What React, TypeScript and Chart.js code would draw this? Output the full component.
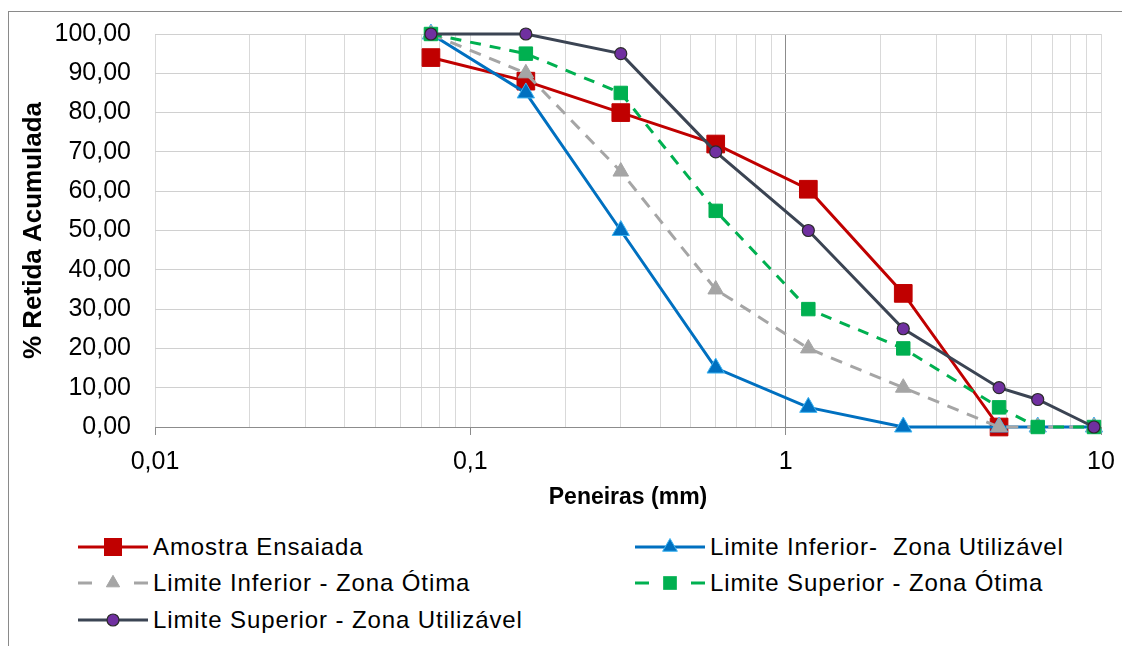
import React, { useEffect, useRef } from "react";
import { Chart, registerables } from "chart.js";

Chart.register(...registerables);

// ---- Data ----
const sieves = [0.075, 0.15, 0.3, 0.6, 1.18, 2.36, 4.75, 6.3, 9.5];
const amostraEnsaiada = [94, 88, 80, 72, 60.5, 34, 0];
const limInfUtilizavel = [100, 85, 50, 15, 5, 0, 0, 0, 0];
const limInfOtima = [100, 90, 65, 35, 20, 10, 0, 0, 0];
const limSupOtima = [100, 95, 85, 55, 30, 20, 5, 0, 0];
const limSupUtilizavel = [100, 100, 95, 70, 50, 25, 10, 7, 0];

const seriesNames = [
  "Amostra Ensaiada",
  "Limite Inferior-  Zona Utilizável",
  "Limite Inferior - Zona Ótima",
  "Limite Superior - Zona Ótima",
  "Limite Superior - Zona Utilizável",
];

const xMajorValues = [0.01, 0.1, 1, 10];
const xMajorLabels = ["0,01", "0,1", "1", "10"];
const xTitle = "Peneiras (mm)";
const yTitle = "% Retida Acumulada";

const FONT = "'Liberation Sans', Arial, sans-serif";

const xGridValues: number[] = (() => {
  const out: number[] = [];
  for (let e = -2; e <= 0; e++) {
    for (let m = 1; m <= 9; m++) out.push(Number((m * Math.pow(10, e)).toPrecision(3)));
  }
  out.push(10);
  return out;
})();

const toPoints = (vals: number[]) => vals.map((y, i) => ({ x: sieves[i], y }));

type Sty = {
  color: string;
  dash: number[];
  marker: string;
  radius: number;
  fill: string;
  border: string;
  borderW: number;
};

const styles: Sty[] = [
  { color: "#C00000", dash: [], marker: "rect", radius: 12.5, fill: "#C00000", border: "#C00000", borderW: 1 },
  { color: "#0070C0", dash: [], marker: "triangle", radius: 10, fill: "#0070C0", border: "#3DB4F2", borderW: 1 },
  { color: "#A5A5A5", dash: [12, 9], marker: "triangle", radius: 9, fill: "#A5A5A5", border: "#A5A5A5", borderW: 1 },
  { color: "#00B050", dash: [11, 9], marker: "rect", radius: 9.5, fill: "#00B050", border: "#00B050", borderW: 1 },
  { color: "#3B4453", dash: [], marker: "circle", radius: 6, fill: "#7030A0", border: "#2A2A2A", borderW: 1.2 },
];

const seriesValues = [amostraEnsaiada, limInfUtilizavel, limInfOtima, limSupOtima, limSupUtilizavel];

function LegendSample({ s }: { s: Sty }) {
  const w = 70;
  const h = 24;
  const cy = h / 2;
  let marker: React.ReactNode = null;
  if (s.marker === "rect") {
    const r = s.radius * 0.72;
    marker = <rect x={35 - r} y={cy - r} width={2 * r} height={2 * r} fill={s.fill} />;
  } else if (s.marker === "triangle") {
    const r = s.radius * 0.85;
    const p = `${35},${cy - r} ${35 + r * 0.866},${cy + r * 0.5} ${35 - r * 0.866},${cy + r * 0.5}`;
    marker = <polygon points={p} fill={s.fill} stroke={s.border} strokeWidth={1} />;
  } else {
    marker = <circle cx={35} cy={cy} r={6} fill={s.fill} stroke={s.border} strokeWidth={1.2} />;
  }
  const dashed = s.dash.length > 0;
  return (
    <svg width={w} height={h} style={{ display: "block" }}>
      {dashed ? (
        <>
          <line x1={0} y1={cy} x2={14} y2={cy} stroke={s.color} strokeWidth={3} />
          <line x1={56} y1={cy} x2={70} y2={cy} stroke={s.color} strokeWidth={3} />
        </>
      ) : (
        <line x1={0} y1={cy} x2={70} y2={cy} stroke={s.color} strokeWidth={3} />
      )}
      {marker}
    </svg>
  );
}

const legendPos = [
  { left: 69, top: 535 },
  { left: 626, top: 535 },
  { left: 69, top: 571 },
  { left: 626, top: 571 },
  { left: 69, top: 608 },
];

export default function App() {
  const canvasRef = useRef<HTMLCanvasElement | null>(null);

  useEffect(() => {
    const canvas = canvasRef.current;
    if (!canvas) return;
    const datasets = seriesValues.map((vals, i) => {
      const s = styles[i];
      return {
        label: seriesNames[i],
        data: toPoints(vals),
        borderColor: s.color,
        borderWidth: 3,
        borderDash: s.dash,
        backgroundColor: s.fill,
        pointStyle: s.marker as any,
        pointRadius: s.radius,
        pointHoverRadius: s.radius,
        pointBackgroundColor: s.fill,
        pointBorderColor: s.border,
        pointBorderWidth: s.borderW,
        tension: 0,
        fill: false,
        clip: false as any,
        order: seriesValues.length - i,
      };
    });

    const chart = new Chart(canvas, {
      type: "line",
      data: { datasets },
      options: {
        responsive: false,
        animation: false,
        parsing: true,
        layout: { padding: { left: 0, right: 20, top: 22, bottom: 0 } },
        plugins: {
          legend: { display: false },
          tooltip: { enabled: false },
          title: { display: false },
        },
        scales: {
          x: {
            type: "logarithmic",
            min: 0.01,
            max: 10,
            afterBuildTicks: (scale: any) => {
              scale.ticks = xGridValues.map((v) => ({ value: v }));
            },
            afterFit: (scale: any) => {
              scale.height = 85;
              scale.paddingLeft = 0;
              scale.paddingRight = 0;
            },
            ticks: {
              autoSkip: false,
              maxRotation: 0,
              minRotation: 0,
              padding: 12,
              color: "#000",
              font: { family: FONT, size: 25 },
              callback: (v: any) => {
                const idx = xMajorValues.indexOf(Number(v));
                return idx >= 0 ? xMajorLabels[idx] : "";
              },
            },
            grid: {
              drawTicks: true,
              tickLength: 8,
              lineWidth: 1,
              color: (ctx: any) => (ctx.tick && ctx.tick.value === 1 ? "#8C8C8C" : "#D9D9D9"),
              tickColor: (ctx: any) =>
                ctx.tick && xMajorValues.includes(ctx.tick.value) ? "#8C8C8C" : "rgba(0,0,0,0)",
            },
            border: { display: true, color: "#8C8C8C", width: 1 },
            title: {
              display: true,
              text: xTitle,
              color: "#000",
              font: { family: FONT, size: 23, weight: "bold" },
              padding: { top: 0, bottom: 1 },
            },
          },
          y: {
            type: "linear",
            min: 0,
            max: 100,
            afterFit: (scale: any) => {
              scale.width = 146;
              scale.paddingTop = 0;
              scale.paddingBottom = 0;
            },
            ticks: {
              stepSize: 10,
              padding: 24,
              color: "#000",
              font: { family: FONT, size: 25 },
              callback: (v: any) => Number(v).toFixed(2).replace(".", ","),
            },
            grid: {
              drawTicks: false,
              lineWidth: 1,
              color: (ctx: any) => (ctx.tick && ctx.tick.value === 0 ? "#8C8C8C" : "#D0D0D0"),
            },
            border: { display: false },
            title: {
              display: true,
              text: yTitle,
              color: "#000",
              font: { family: FONT, size: 26, weight: "bold" },
              padding: { top: 9, bottom: 0 },
            },
          },
        },
      },
    });
    return () => chart.destroy();
  }, []);

  return (
    <div
      style={{
        position: "relative",
        top: 3,
        width: 1130,
        height: 640,
        borderTop: "1px solid #8A8A8A",
        borderLeft: "1px solid #8A8A8A",
        boxSizing: "border-box",
        fontFamily: FONT,
        background: "#fff",
      }}
    >
      <canvas
        ref={canvasRef}
        width={1112}
        height={500}
        style={{ position: "absolute", left: 0, top: 0, width: 1112, height: 500 }}
      />
      {seriesNames.map((name, i) => (
        <div
          key={name}
          style={{
            position: "absolute",
            left: legendPos[i].left,
            top: legendPos[i].top - 12,
            height: 24,
            display: "flex",
            alignItems: "center",
            whiteSpace: "pre",
          }}
        >
          <LegendSample s={styles[i]} />
          <span
            style={{
              marginLeft: 5,
              fontSize: 24,
              letterSpacing: "0.9px",
              color: "#000",
              lineHeight: "24px",
            }}
          >
            {name}
          </span>
        </div>
      ))}
    </div>
  );
}
